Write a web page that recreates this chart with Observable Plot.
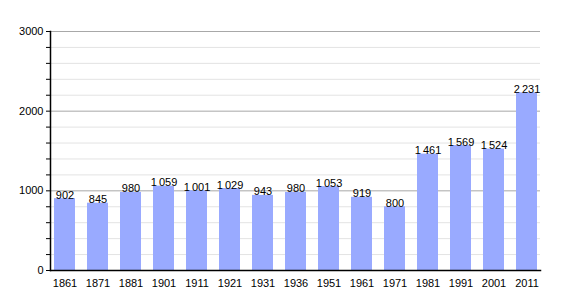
<!DOCTYPE html>
<html>
<head>
<meta charset="utf-8">
<script src="https://cdn.jsdelivr.net/npm/d3@7"></script>
<script src="https://cdn.jsdelivr.net/npm/@observablehq/plot@0.6"></script>
<style>
  html, body { margin: 0; padding: 0; background: #fff; }
  svg { font-family: "Liberation Sans", Arial, sans-serif; }
</style>
</head>
<body>
<div id="chart"></div>
<script>
const years = ["1861","1871","1881","1901","1911","1921","1931","1936","1951","1961","1971","1981","1991","2001","2011"];
const population = [902, 845, 980, 1059, 1001, 1029, 943, 980, 1053, 919, 800, 1461, 1569, 1524, 2231];
const majorTicks = [0, 1000, 2000, 3000];
const minorTicks = d3.range(0, 3001, 200);

const data = years.map((y, i) => ({year: y, value: population[i]}));
const fmt = d3.formatLocale({decimal: ",", thousands: "\u2009", grouping: [3], currency: ["", ""]}).format(",d");

const chart = Plot.plot({
  width: 570,
  height: 300,
  marginLeft: 50,
  marginRight: 30,
  marginTop: 31,
  marginBottom: 30,
  style: {fontFamily: "'Liberation Sans', Arial, sans-serif", fontSize: "11px", color: "#000", background: "#fff"},
  x: {domain: years, paddingInner: 0.37, paddingOuter: 0, label: null},
  y: {domain: [0, 3000], label: null},
  marks: [
    Plot.ruleY(minorTicks.filter(d => d % 1000 !== 0), {stroke: "#e3e3e3", strokeWidth: 1}),
    Plot.ruleY(majorTicks.filter(d => d > 0), {stroke: "#a8a8a8", strokeWidth: 1}),
    Plot.barY(data, {x: "year", y: "value", fill: "#99aaff"}),
    Plot.text(data, {x: "year", y: "value", text: d => fmt(d.value), lineAnchor: "bottom", dy: 0, fontSize: 11, fill: "#000"}),
    Plot.axisY(minorTicks, {tickSize: 4, text: null, stroke: "#000", strokeOpacity: 1}),
    Plot.axisY(majorTicks, {tickSize: 0, tickPadding: 7, tickFormat: d => String(d), fill: "#000", label: null}),
    Plot.axisX({tickSize: 0, tickPadding: 9, fill: "#000", label: null}),
    Plot.frame({anchor: "left", stroke: "#000", strokeWidth: 1.5}),
    Plot.frame({anchor: "bottom", stroke: "#000", strokeWidth: 1.5})
  ]
});
document.getElementById("chart").append(chart);
</script>
</body>
</html>
